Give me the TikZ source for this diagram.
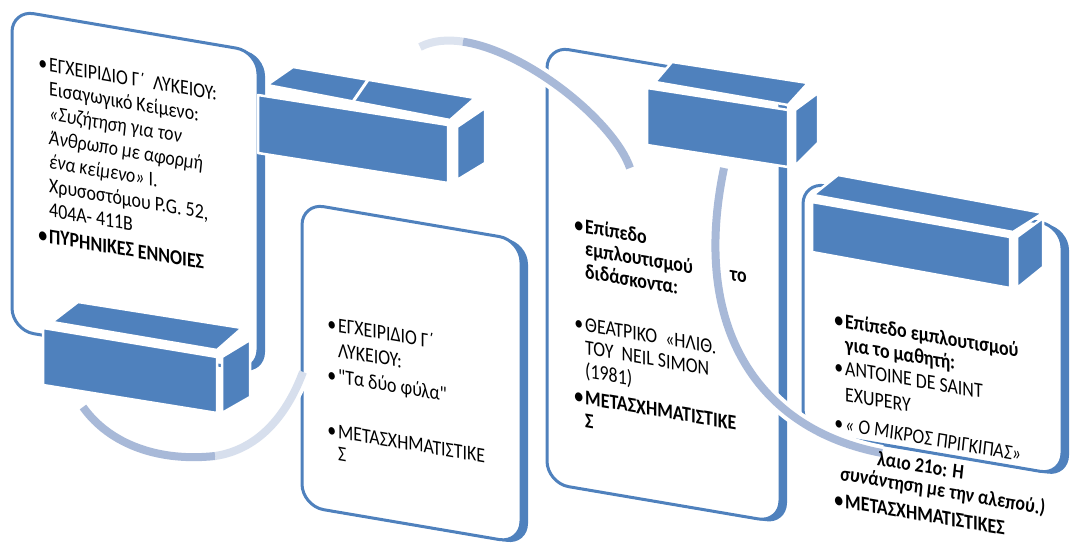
\documentclass[tikz,border=0pt]{standalone}
\usepackage{fontspec}
\setmainfont{Carlito}[FakeStretch=0.85, Ligatures=TeXOff]
\definecolor{blk}{RGB}{79,129,189}
\definecolor{arcc}{RGB}{168,185,216}
\tikzset{
 boxshadow/.style={fill=blk, rounded corners=22},
 boxmain/.style={fill=white, draw=blk, line width=3, rounded corners=22},
 face/.style={fill=blk, draw=white, line width=2.5, line join=round},
 txt/.style={anchor=base west, inner sep=0, transform shape, text=black, font=\fontsize{21}{23.5}\selectfont},
 txtb/.style={txt, font=\fontsize{21}{23.5}\selectfont\bfseries},
 glow/.style={draw=white, line width=16},
 arcline/.style={draw=arcc, line width=8},
 sca/.style={shift={(12,10)}, yslant=-0.17},
 scb/.style={shift={(302,203)}, yslant=-0.17},
 scc/.style={shift={(547,46)}, yslant=-0.17},
 scd/.style={shift={(803,182)}, yslant=-0.17}
}
\newcommand{\bul}{\llap{•\kern2pt}}
\newcommand{\panel}[2]{%
 \path[boxshadow] (7,1) -- (#1+7,1) -- (#1+7,#2+1) -- (7,#2+1) -- cycle;
 \path[boxmain] (0,0) -- (#1,0) -- (#1,#2) -- (0,#2) -- cycle;}
\begin{document}
\begin{tikzpicture}[x=1pt,y=-1pt]
\useasboundingbox (0,0) rectangle (1075,551);
% ---------- panels
\begin{scope}[sca] \panel{246}{320} \end{scope}
\begin{scope}[scb] \panel{219}{303} \end{scope}
\begin{scope}[scc] \panel{233}{437} \end{scope}
\begin{scope}[scd] \panel{259}{249} \end{scope}
% ---------- connecting arcs
\coordinate (a1s) at (83,407);
\coordinate (a1m) at (215,456);
\coordinate (a1e) at (303,372);
\draw[glow] (a1s) .. controls (110,445) and (160,462) .. (a1m) .. controls (255,450) and (285,420) .. (a1e);
\draw[arcline] (a1s) .. controls (110,445) and (160,462) .. (a1m);
\draw[arcline, draw opacity=0.45] (a1m) .. controls (255,450) and (285,420) .. (a1e);
\coordinate (a2s) at (420,47);
\coordinate (a2m) at (463,41.7);
\coordinate (a2e) at (630,168);
\draw[glow] (a2s) .. controls (432,40.6) and (446.8,39.3) .. (a2m) .. controls (527.6,51.5) and (614,121.6) .. (a2e);
\draw[arcline, draw opacity=0.4] (a2s) .. controls (432,40.6) and (446.8,39.3) .. (a2m);
\draw[arcline] (a2m) .. controls (527.6,51.5) and (614,121.6) .. (a2e);
\coordinate (a3s) at (724,168);
\coordinate (a3e) at (882,453);
\draw[glow] (a3s) .. controls (690,330) and (760,430) .. (a3e);
\draw[arcline] (a3s) .. controls (690,330) and (760,430) .. (a3e);
% ---------- texts
\begin{scope}[sca]
 \node[txt] (t1a) at (37,55.4) {\vtop{\baselineskip=24.2pt
  \hbox{\bul ΕΓΧΕΙΡΙΔΙΟ Γ΄ \ ΛΥΚΕΙΟΥ:}
  \hbox{Εισαγωγικό Κείμενο:}
  \hbox{\itshape «Συζήτηση για τον}
  \hbox{\itshape Άνθρωπο με αφορμή}
  \hbox{{\itshape ένα κείμενο»} Ι.}
  \hbox{Χρυσοστόμου P.G. 52,}
  \hbox{404A- 411B}}};
 \node[txtb] (t1b) at (37,226.7) {\bul ΠΥΡΗΝΙΚΕΣ ΈΝΝΟΙΕΣ};
\end{scope}
\begin{scope}[scb]
 \node[txt] (t2a) at (36,122.9) {\vtop{\baselineskip=25pt \hbox{\bul ΕΓΧΕΙΡΙΔΙΟ Γ΄}\hbox{ΛΥΚΕΙΟΥ:}}};
 \node[txt] (t2b) at (36,173.9) {\bul "Τα δύο φύλα"};
 \node[txt] (t2c) at (36,228.9) {\vtop{\baselineskip=22pt \hbox{\bul ΜΕΤΑΣΧΗΜΑΤΙΣΤΙΚΕ}\hbox{Σ}}};
\end{scope}
\begin{scope}[scc]
 \node[txtb] (t3a) at (38,181) {\vtop{\baselineskip=22.5pt \hbox{\bul Επίπεδο}\hbox{\makebox[145pt][l]{εμπλουτισμού}το}\hbox{διδάσκοντα:}}};
 \node[txt] (t3b) at (38,279) {\vtop{\baselineskip=23pt \hbox{\bul ΘΕΑΤΡΙΚΟ \ «ΗΛΙΘ.}\hbox{ΤΟΥ \ NEIL SIMON}\hbox{(1981)}}};
 \node[txtb] (t3c) at (38,352) {\vtop{\baselineskip=23pt \hbox{\bul ΜΕΤΑΣΧΗΜΑΤΙΣΤΙΚΕ}\hbox{Σ}}};
\end{scope}
\begin{scope}[scd]
 \node[txtb] (t4a) at (42,138.9) {\vtop{\baselineskip=23pt \hbox{\bul Επίπεδο εμπλουτισμού}\hbox{για το μαθητή:}}};
 \node[txt] (t4b) at (42,185.9) {\vtop{\baselineskip=26pt \hbox{\bul ANTOINE DE SAINT}\hbox{EXUPERY}}};
 \node[txt] (t4c) at (42,241.9) {\bul\itshape « Ο ΜΙΚΡΟΣ ΠΡΙΓΚΙΠΑΣ»};
 \node[txtb] (t4d) at (74,270.4) {\itshape λαιο 21ο: Η};
 \node[txtb] (t4e) at (37,291.7) {\itshape συνάντηση με την αλεπού.)};
 \node[txtb] (t4f) at (42,318.9) {\bul ΜΕΤΑΣΧΗΜΑΤΙΣΤΙΚΕΣ};
\end{scope}
% ---------- 3D blocks
% block A
\path[face] (267,85) -- (293,67) -- (475,98) -- (450,120) -- cycle;
\draw[white, line width=3] (370,77) -- (352,103);
\path[face] (258,95) -- (448,125) -- (448,183) -- (258,153) -- cycle;
\path[face] (457,127) -- (485,108) -- (485,163) -- (457,180) -- cycle;
% block B
\path[face] (52,322) -- (78,302) -- (242,328) -- (217,350) -- cycle;
\path[face] (43,328) -- (217,357) -- (217,413) -- (43,385) -- cycle;
\path[face] (222,357) -- (250,340) -- (250,397) -- (222,413) -- cycle;
% block C
\path[face] (655,82) -- (672,62) -- (808,83) -- (788,105) -- cycle;
\path[face] (647,88) -- (788,110) -- (788,167) -- (647,145) -- cycle;
\path[face] (795,110) -- (818,93) -- (818,143) -- (795,166) -- cycle;
% block D
\path[face] (813,195) -- (838,175) -- (1043,213) -- (1013,232) -- cycle;
\path[face] (812,202) -- (1010,237) -- (1010,288) -- (812,252) -- cycle;
\path[face] (1017,237) -- (1043,218) -- (1043,267) -- (1017,288) -- cycle;
\end{tikzpicture}
\end{document}
